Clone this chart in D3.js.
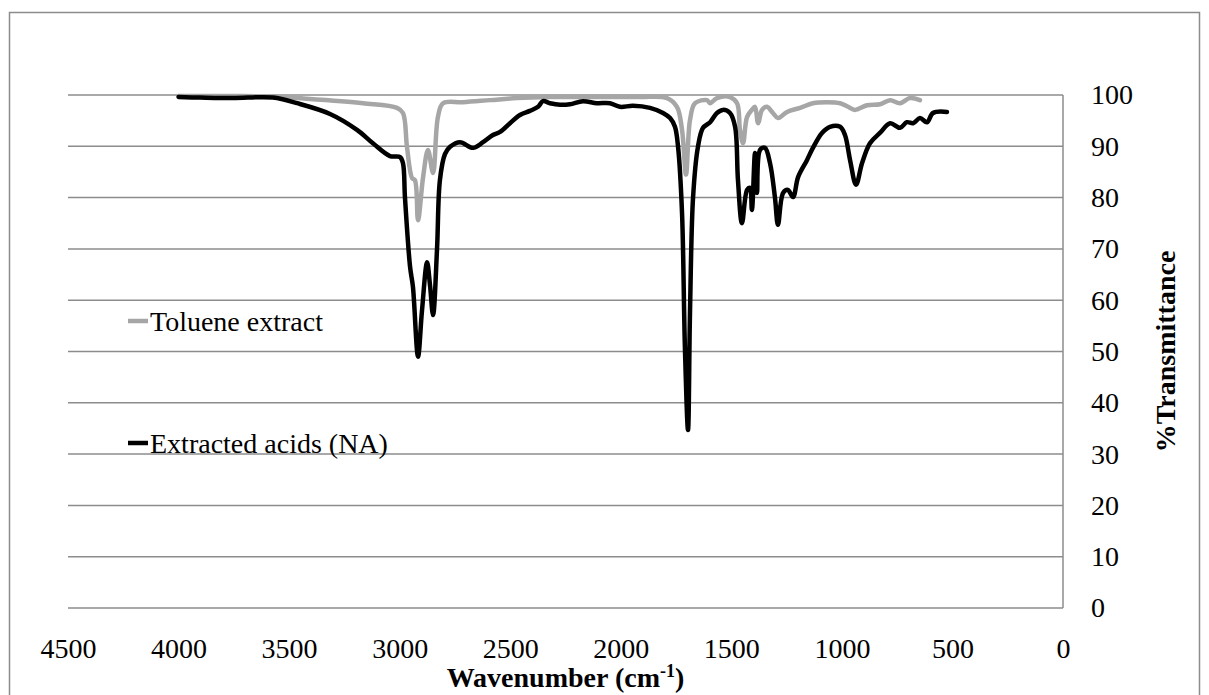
<!DOCTYPE html>
<html>
<head>
<meta charset="utf-8">
<script src="https://cdn.jsdelivr.net/npm/d3@7"></script>
<style>
  html, body { margin: 0; padding: 0; overflow: hidden; background: #fff; }
  svg { display: block; }
  text { font-family: "Liberation Serif", "Times New Roman", serif; fill: #000; }
</style>
</head>
<body>
<div id="chart"></div>
<script>
/* global d3 */

// wavenumber (cm-1) and %T
var tolueneWave = [4000, 3750, 3573, 3464, 3166, 3012, 2985, 2967, 2944, 2931, 2917, 2894, 2872, 2849, 2827, 2804,
  2714, 2591, 2469, 2320, 2094, 1913, 1791, 1746, 1723, 1705, 1687, 1664, 1610, 1596, 1565, 1506, 1474, 1461,
  1447, 1429, 1407, 1393, 1379, 1361, 1339, 1312, 1289, 1248, 1189, 1131, 1067, 1008, 972, 941, 886, 828, 782,
  737, 692, 647];
var tolueneT = [99.8, 99.8, 99.7, 99.4, 98.4, 97.5, 96.5, 89.9, 83.8, 83.4, 75.6, 84, 89.3, 84.8, 95.7, 98.4,
  98.6, 99.0, 99.4, 99.6, 99.6, 99.6, 99.4, 97.7, 93.2, 84.5, 95.1, 98.4, 99.0, 98.4, 99.4, 99.6, 98.4, 93.2,
  90.6, 95.7, 97.1, 97.7, 94.5, 97.1, 97.7, 96.5, 95.5, 96.7, 97.5, 98.4, 98.6, 98.4, 97.7, 97.1, 98.0, 98.2, 99.0,
  98.4, 99.4, 99.0];

var acidWave = [4000, 3903, 3754, 3573, 3464, 3315, 3193, 3121, 3044, 2998, 2985, 2976, 2953, 2940, 2917, 2899,
  2876, 2863, 2849, 2831, 2818, 2795, 2772, 2727, 2668, 2623, 2578, 2546, 2501, 2456, 2411, 2374, 2352, 2320,
  2275, 2230, 2171, 2108, 2049, 2004, 1945, 1868, 1809, 1777, 1755, 1741, 1723, 1710, 1696, 1687, 1673, 1651,
  1628, 1596, 1565, 1538, 1506, 1483, 1470, 1452, 1429, 1416, 1407, 1393, 1384, 1370, 1348, 1325, 1303, 1289,
  1266, 1244, 1221, 1198, 1158, 1131, 1090, 1054, 1008, 986, 963, 936, 909, 873, 828, 782, 737, 706, 678, 647,
  615, 588, 525];
var acidT = [99.6, 99.5, 99.4, 99.5, 98.4, 96.3, 93.2, 90.6, 88.1, 87.9, 86.7, 80, 66.5, 62.6, 49, 58,
  67.4, 63, 57.1, 70, 83.4, 88.5, 89.9, 90.8, 89.7, 90.8, 92.2, 92.8, 94.5, 96.1, 96.9, 97.7, 98.8, 98.4,
  98.1, 98.2, 98.8, 98.4, 98.4, 97.7, 97.9, 97.5, 96.5, 95.5, 93.8, 89.9, 77, 50.9, 34.7, 57.5, 80.1, 89.9,
  93.6, 94.7, 96.5, 97.1, 96.5, 93.8, 83.4, 75, 81.5, 81.9, 77.6, 88.7, 80.9, 89.3, 89.7, 86.7, 80.1, 74.7,
  80.9, 81.5, 80.1, 84, 87.3, 89.7, 92.6, 93.8, 93.8, 92.2, 87.3, 82.5, 86.7, 90.6, 92.6, 94.5, 93.6, 94.7, 94.5, 95.5,
  94.7, 96.5, 96.7];

var xTicks = [4500, 4000, 3500, 3000, 2500, 2000, 1500, 1000, 500, 0];
var yTicks = [0, 10, 20, 30, 40, 50, 60, 70, 80, 90, 100];
var seriesNames = ["Toluene extract", "Extracted acids (NA)"];

var width = 1209,
  height = 695,
  margin = {top: 95, right: 146, bottom: 87, left: 68},
  innerWidth = width - margin.left - margin.right,
  innerHeight = height - margin.top - margin.bottom,
  serif = "'Liberation Serif', 'Times New Roman', serif";

var x = d3.scaleLinear().domain([4500, 0]).range([0, innerWidth]);
var y = d3.scaleLinear().domain([0, 100]).range([innerHeight, 0]);

var svg = d3.select("#chart").append("svg")
  .attr("width", width)
  .attr("height", height);

// outer chart border (bottom edge falls outside the picture)
svg.append("path")
  .attr("d", "M9.5,695V12.5H1199.5V695")
  .attr("fill", "none")
  .attr("stroke", "#8c8c8c")
  .attr("stroke-width", 1.5);

var g = svg.append("g")
  .attr("transform", "translate(" + margin.left + "," + margin.top + ")");

// horizontal gridlines
g.selectAll(".grid")
  .data(yTicks)
  .enter().append("line")
  .attr("class", "grid")
  .attr("x1", 0).attr("x2", innerWidth)
  .attr("y1", function(d) { return y(d); })
  .attr("y2", function(d) { return y(d); })
  .attr("stroke", "#8c8c8c")
  .attr("stroke-width", 1.5);

// right-hand value axis line
g.append("line")
  .attr("x1", innerWidth).attr("x2", innerWidth)
  .attr("y1", 0).attr("y2", innerHeight)
  .attr("stroke", "#8c8c8c")
  .attr("stroke-width", 1.5);

var xAxis = g.append("g")
  .attr("transform", "translate(0," + innerHeight + ")")
  .call(d3.axisBottom(x).tickValues(xTicks).tickSize(0).tickPadding(30).tickFormat(d3.format("d")))
  .attr("font-family", null)
  .attr("font-size", null);
xAxis.select(".domain").remove();
xAxis.selectAll("text").style("font-family", serif).style("font-size", "28px");

var yAxis = g.append("g")
  .attr("transform", "translate(" + innerWidth + ",0)")
  .call(d3.axisRight(y).tickValues(yTicks).tickSize(0).tickPadding(28))
  .attr("font-family", null)
  .attr("font-size", null);
yAxis.select(".domain").remove();
yAxis.selectAll("text").style("font-family", serif).style("font-size", "28px");

var line = d3.line()
  .x(function(d) { return x(d[0]); })
  .y(function(d) { return y(d[1]); })
  .curve(d3.curveCatmullRom.alpha(0.5));

var series = [
  {name: seriesNames[0], pts: d3.zip(tolueneWave, tolueneT), color: "#a6a6a6"},
  {name: seriesNames[1], pts: d3.zip(acidWave, acidT), color: "#000000"}
];

g.selectAll(".spectrum")
  .data(series)
  .enter().append("path")
  .attr("class", "spectrum")
  .attr("d", function(d) { return line(d.pts); })
  .attr("fill", "none")
  .attr("stroke", function(d) { return d.color; })
  .attr("stroke-width", 4.5)
  .attr("stroke-linejoin", "round")
  .attr("stroke-linecap", "round");

// legend sitting inside the plot, left side
var legend = svg.selectAll(".legend")
  .data(series)
  .enter().append("g")
  .attr("class", "legend")
  .attr("transform", function(d, i) { return "translate(128," + (321 + i * 122) + ")"; });

legend.append("line")
  .attr("x1", 0).attr("x2", 20)
  .attr("stroke", function(d) { return d.color; })
  .attr("stroke-width", 4.5);

legend.append("text")
  .attr("x", 22)
  .attr("y", 10)
  .style("font-size", "28px")
  .text(function(d) { return d.name; });

// axis titles
var xTitle = svg.append("text")
  .attr("x", margin.left + innerWidth / 2)
  .attr("y", 687)
  .attr("text-anchor", "middle")
  .style("font-size", "28px")
  .style("font-weight", "bold");
xTitle.append("tspan").text("Wavenumber (cm");
xTitle.append("tspan").attr("dy", -10).style("font-size", "18px").text("-1");
xTitle.append("tspan").attr("dy", 10).text(")");

svg.append("text")
  .attr("transform", "translate(1175," + (margin.top + innerHeight / 2) + ") rotate(-90)")
  .attr("text-anchor", "middle")
  .style("font-size", "28px")
  .style("font-weight", "bold")
  .text("%Transmittance");
</script>
</body>
</html>
